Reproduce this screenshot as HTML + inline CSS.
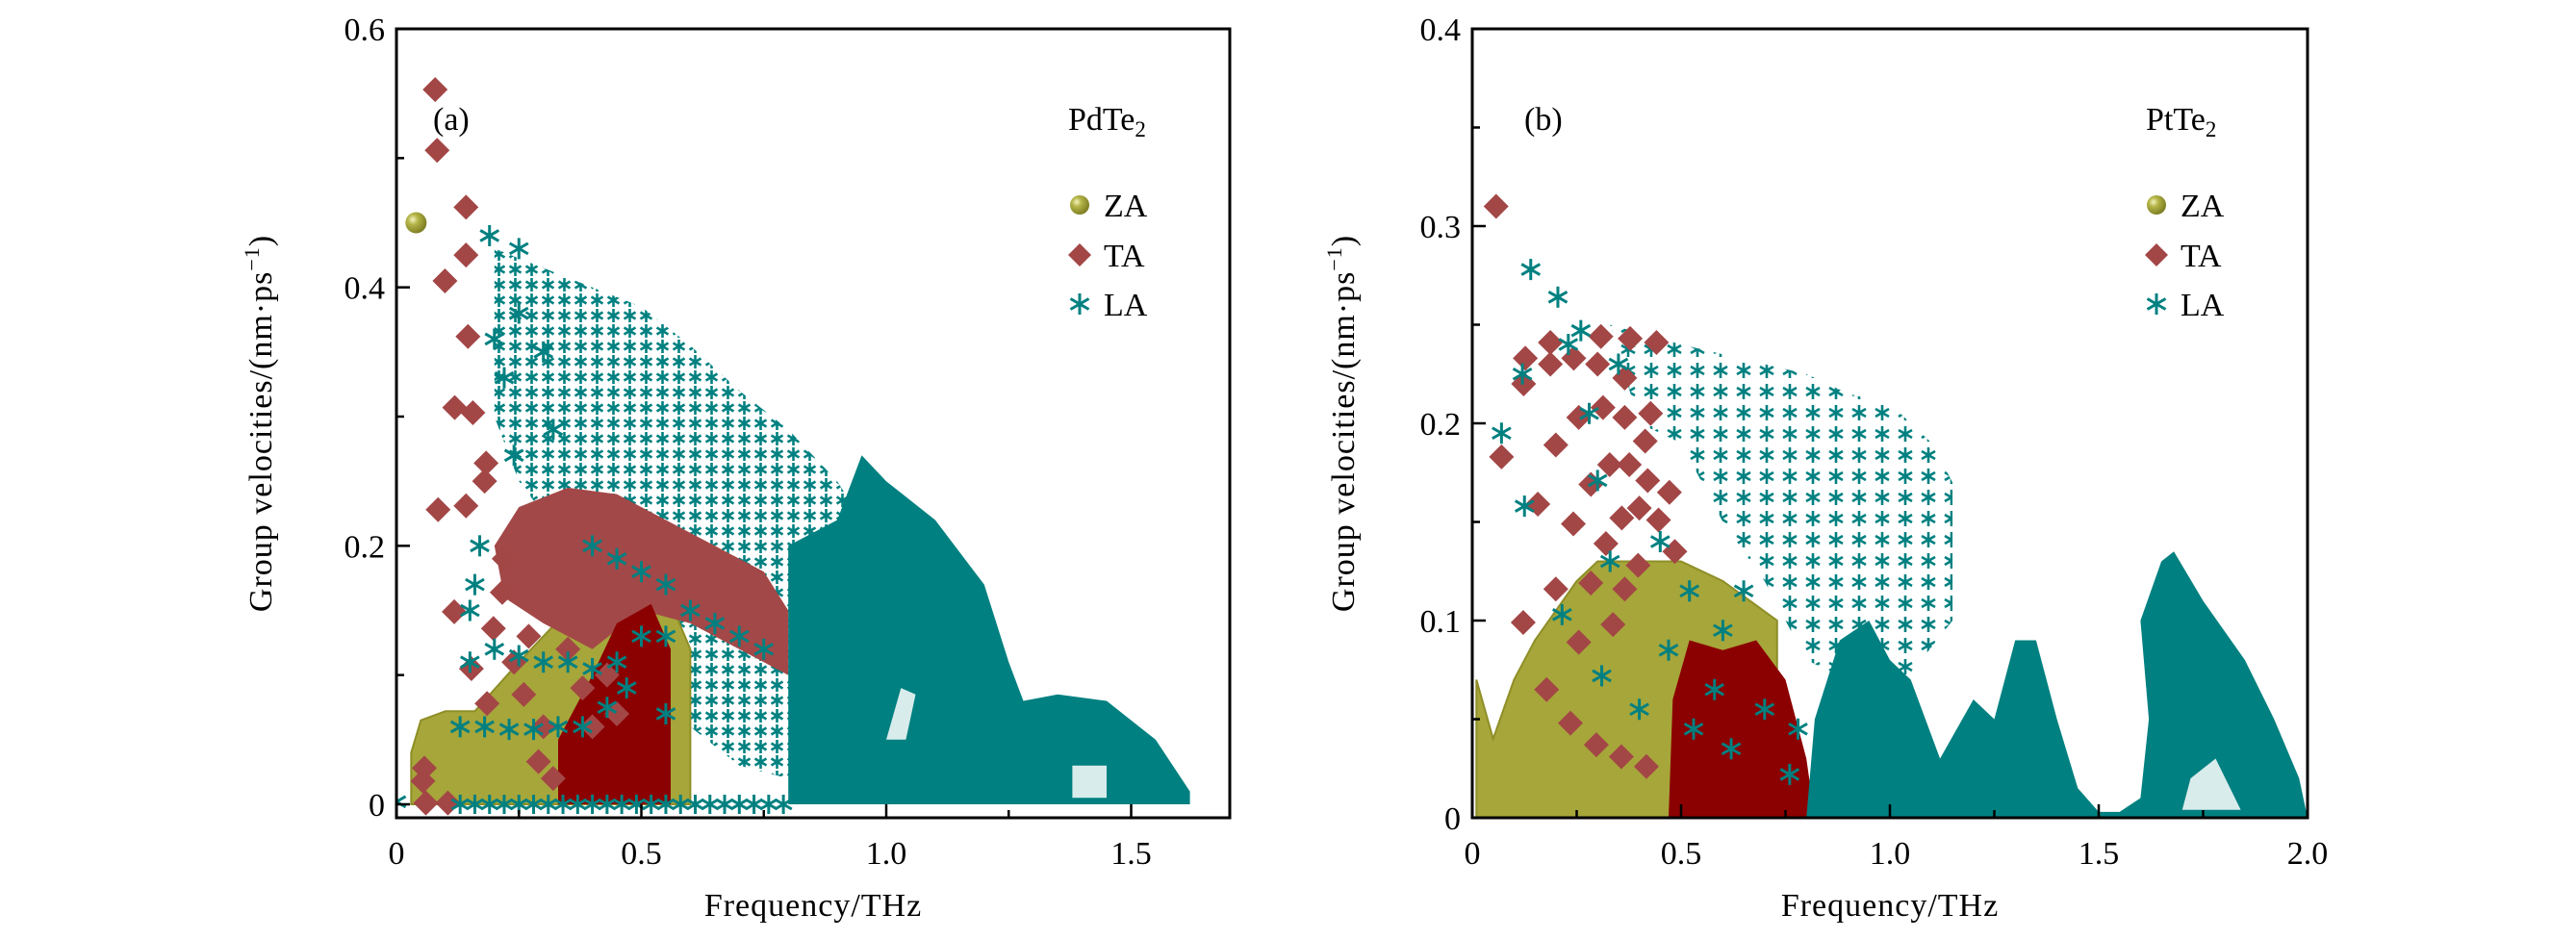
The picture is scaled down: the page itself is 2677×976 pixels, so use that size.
<!DOCTYPE html>
<html><head><meta charset="utf-8"><style>
html,body{margin:0;padding:0;background:#fff;}
svg{display:block;font-family:"Liberation Serif",serif;}
</style></head><body>
<svg id="chart" width="2677" height="976" viewBox="0 0 2677 976">
<defs>
<pattern id="starpat" width="17" height="16" patternUnits="userSpaceOnUse">
<g stroke="#008080" stroke-width="2.6"><line x1="8.5" y1="1" x2="8.5" y2="15"/><line x1="2.5" y1="4.5" x2="14.5" y2="11.5"/><line x1="2.5" y1="11.5" x2="14.5" y2="4.5"/></g>
</pattern>
<pattern id="starpat2" width="24" height="22" patternUnits="userSpaceOnUse">
<g stroke="#008080" stroke-width="2.6"><line x1="12" y1="3" x2="12" y2="19"/><line x1="5" y1="7" x2="19" y2="15"/><line x1="5" y1="15" x2="19" y2="7"/></g>
</pattern>
<radialGradient id="ball" cx="0.35" cy="0.35" r="0.7"><stop offset="0" stop-color="#f4f4c0"/><stop offset="0.35" stop-color="#b4b448"/><stop offset="1" stop-color="#7a7a20"/></radialGradient>
</defs>
</svg>
<script>
// ---------- Panel (a) PdTe2 data ----------
const aZAArea = [[0.03,0],[0.03,0.04],[0.05,0.065],[0.1,0.072],[0.16,0.072],[0.25,0.11],[0.35,0.15],[0.45,0.17],[0.55,0.165],[0.6,0.12],[0.6,0]];
const aZAPoints = [[0.04,0.45]];
const aTAUpperArea = [[0.2,0.2],[0.25,0.23],[0.35,0.245],[0.45,0.24],[0.55,0.22],[0.65,0.2],[0.75,0.18],[0.8,0.15],[0.8,0.1],[0.7,0.12],[0.6,0.14],[0.5,0.15],[0.4,0.12],[0.3,0.14],[0.22,0.16]];
const aTABaseArea = [[0.33,0],[0.33,0.05],[0.4,0.1],[0.45,0.14],[0.52,0.155],[0.56,0.12],[0.56,0]];
const aTAPoints = [[0.079,0.553],[0.083,0.506],[0.099,0.405],[0.142,0.462],[0.142,0.425],[0.146,0.362],[0.119,0.307],[0.156,0.303],[0.183,0.264],[0.18,0.25],[0.085,0.228],[0.142,0.231],[0.118,0.149],[0.198,0.136],[0.216,0.164],[0.153,0.105],[0.185,0.078],[0.06,0.001],[0.054,0.018],[0.057,0.028],[0.105,0.001],[0.26,0.085],[0.3,0.06],[0.29,0.033],[0.32,0.02],[0.35,0.12],[0.38,0.09],[0.4,0.06],[0.43,0.1],[0.45,0.07],[0.24,0.11],[0.27,0.13],[0.22,0.19]];
const aLADenseArea = [[0.8,0],[0.8,0.2],[0.9,0.22],[0.95,0.27],[1.0,0.25],[1.1,0.22],[1.2,0.17],[1.25,0.11],[1.28,0.08],[1.35,0.085],[1.45,0.08],[1.55,0.05],[1.62,0.01],[1.62,0]];
const aLAGapArea = [[[1.0,0.05],[1.03,0.09],[1.06,0.085],[1.04,0.05]],[[1.38,0.005],[1.38,0.03],[1.45,0.03],[1.45,0.005]]];
const aLAArcArea = [[0.2,0.43],[0.3,0.415],[0.4,0.4],[0.5,0.385],[0.6,0.355],[0.7,0.32],[0.8,0.29],[0.9,0.25],[0.95,0.22],[0.95,0.02],[0.8,0.02],[0.7,0.03],[0.6,0.06],[0.5,0.1],[0.35,0.2],[0.25,0.25],[0.2,0.3]];
const aLAPoints = [[0.19,0.44],[0.25,0.43],[0.25,0.38],[0.2,0.36],[0.22,0.33],[0.3,0.35],[0.32,0.29],[0.24,0.27],[0.17,0.2],[0.15,0.15],[0.16,0.17],[0.15,0.11],[0.2,0.12],[0.25,0.115],[0.3,0.11],[0.35,0.11],[0.4,0.105],[0.45,0.11],[0.5,0.13],[0.55,0.13],[0.13,0.06],[0.18,0.06],[0.23,0.058],[0.28,0.058],[0.33,0.06],[0.38,0.06],[0.43,0.075],[0.47,0.09],[0.55,0.07],[0.0,0.002],[0.6,0.15],[0.65,0.14],[0.7,0.13],[0.75,0.12],[0.4,0.2],[0.45,0.19],[0.5,0.18],[0.55,0.17]];
const aLABaseline = [0.13,0.16,0.19,0.22,0.25,0.28,0.31,0.34,0.37,0.4,0.43,0.46,0.49,0.52,0.55,0.58,0.61,0.64,0.67,0.7,0.73,0.76,0.79];
const aXTicks = [0,0.5,1.0,1.5];
const aXTickLabels = ["0","0.5","1.0","1.5"];
const aYTicks = [0,0.2,0.4,0.6];
const aYTickLabels = ["0","0.2","0.4","0.6"];

// ---------- Panel (b) PtTe2 data ----------
const bZAArea = [[0.01,0],[0.01,0.07],[0.05,0.04],[0.1,0.07],[0.15,0.09],[0.2,0.105],[0.25,0.12],[0.3,0.13],[0.4,0.13],[0.5,0.13],[0.6,0.12],[0.73,0.1],[0.73,0.06],[0.55,0]];
const bTAArea = [[0.47,0],[0.48,0.06],[0.52,0.09],[0.6,0.085],[0.68,0.09],[0.75,0.07],[0.8,0.03],[0.82,0]];
const bTAPoints = [[0.057,0.31],[0.07,0.183],[0.127,0.233],[0.123,0.22],[0.187,0.241],[0.187,0.23],[0.243,0.233],[0.308,0.244],[0.378,0.243],[0.441,0.241],[0.3,0.23],[0.365,0.223],[0.255,0.203],[0.313,0.208],[0.365,0.203],[0.427,0.205],[0.2,0.189],[0.414,0.191],[0.284,0.169],[0.329,0.179],[0.376,0.179],[0.42,0.171],[0.472,0.165],[0.157,0.159],[0.242,0.149],[0.358,0.152],[0.4,0.157],[0.446,0.151],[0.32,0.139],[0.485,0.135],[0.397,0.128],[0.122,0.099],[0.2,0.116],[0.284,0.119],[0.365,0.116],[0.255,0.089],[0.337,0.098],[0.178,0.065],[0.235,0.048],[0.297,0.037],[0.357,0.031],[0.417,0.026]];
const bLADenseArea = [[0.8,0],[0.82,0.05],[0.88,0.09],[0.95,0.1],[1.0,0.08],[1.05,0.07],[1.12,0.03],[1.2,0.06],[1.25,0.05],[1.3,0.09],[1.35,0.09],[1.4,0.05],[1.45,0.015],[1.5,0.003],[1.55,0.003],[1.6,0.01],[1.62,0.05],[1.6,0.1],[1.65,0.13],[1.68,0.135],[1.75,0.11],[1.85,0.08],[1.92,0.05],[1.98,0.02],[2.0,0]];
const bLAGapArea = [[[1.7,0.004],[1.72,0.02],[1.78,0.03],[1.84,0.004]]];
const bLAArcArea = [[0.33,0.25],[0.5,0.24],[0.6,0.235],[0.7,0.23],[0.8,0.225],[0.9,0.215],[1.0,0.21],[1.05,0.2],[1.1,0.19],[1.15,0.17],[1.15,0.1],[1.0,0.06],[0.8,0.08],[0.7,0.12],[0.6,0.15],[0.5,0.19],[0.4,0.2]];
const bLAPoints = [[0.14,0.278],[0.205,0.264],[0.07,0.195],[0.125,0.158],[0.26,0.247],[0.215,0.103],[0.31,0.072],[0.4,0.055],[0.12,0.225],[0.23,0.24],[0.28,0.205],[0.3,0.171],[0.33,0.13],[0.35,0.23],[0.45,0.14],[0.52,0.115],[0.6,0.095],[0.65,0.115],[0.7,0.055],[0.62,0.035],[0.58,0.065],[0.78,0.045],[0.76,0.022],[0.53,0.045],[0.47,0.085]];
const bXTicks = [0,0.5,1.0,1.5,2.0];
const bXTickLabels = ["0","0.5","1.0","1.5","2.0"];
const bYTicks = [0,0.1,0.2,0.3,0.4];
const bYTickLabels = ["0","0.1","0.2","0.3","0.4"];

const NS = "http://www.w3.org/2000/svg";
const svg = document.getElementById('chart');
function mk(tag, attrs, parent){
  const e = document.createElementNS(NS, tag);
  for (const k in attrs) e.setAttribute(k, attrs[k]);
  (parent||svg).appendChild(e);
  return e;
}

function panel(cfg){
  const {L,R,T,B,x0,x1,y0,y1} = cfg;
  const sx = v => L + (v - x0) / (x1 - x0) * (R - L);
  const sy = v => B - (v - y0) / (y1 - y0) * (B - T);
  const g = mk('g', {});
  
  
  const clipId = 'clip-' + cfg.name;
  const cp = mk('clipPath', {id: clipId}, svg.querySelector('defs'));
  mk('rect', {x:L, y:T, width:R-L, height:B-T}, cp);
  const plot = mk('g', {'clip-path': 'url(#' + clipId + ')'}, g);
  const poly = pts => pts.map(p => sx(p[0]).toFixed(1) + ',' + sy(p[1]).toFixed(1)).join(' ');

  const arc = mk('polygon', {points: poly(cfg.laArc), fill: 'url(#' + cfg.pat + ')'}, plot);
  
  
  const za = mk('polygon', {points: poly(cfg.zaArea), fill: '#a6a63a', stroke: '#8e8e28', 'stroke-width': 2}, plot);
  
  
  (cfg.zaPoints||[]).forEach(p => {
    const c = mk('circle', {cx: sx(p[0]), cy: sy(p[1]), r: 11, fill: 'url(#ball)'}, plot);
    
    
  });
  (cfg.taAreas).forEach(a => {
    const t = mk('polygon', {points: poly(a.pts), fill: a.fill}, plot);
    
    
  });
  const dense = mk('polygon', {points: poly(cfg.laDense), fill: '#008080'}, plot);
  
  
  cfg.laGaps.forEach(gp => {
    const h = mk('polygon', {points: poly(gp), fill: '#ffffff', opacity: 0.85}, plot);
    
    
  });
  cfg.taPoints.forEach(p => {
    const x = sx(p[0]), y = sy(p[1]);
    const d = mk('polygon', {points: `${x},${y-13} ${x+13},${y} ${x},${y+13} ${x-13},${y}`, fill: '#a34646'}, plot);
    
    
  });
  const star = (x, y, s) => {
    const st = mk('g', {stroke: '#008080', 'stroke-width': 3}, plot);
    
    
    mk('line', {x1:x, y1:y-s, x2:x, y2:y+s}, st);
    mk('line', {x1:x-s*0.87, y1:y-s*0.5, x2:x+s*0.87, y2:y+s*0.5}, st);
    mk('line', {x1:x-s*0.87, y1:y+s*0.5, x2:x+s*0.87, y2:y-s*0.5}, st);
  };
  cfg.laPoints.forEach(p => star(sx(p[0]), sy(p[1]), 11));
  (cfg.laBase||[]).forEach(f => star(sx(f), sy(0), 10));

  const fr = mk('rect', {x:L, y:T, width:R-L, height:B-T, fill:'none', stroke:'#000', 'stroke-width': 3}, g);
  
  
  cfg.xTicks.forEach((v, i) => {
    mk('line', {x1: sx(v), y1: B, x2: sx(v), y2: B - 14, stroke: '#000', 'stroke-width': 2.5}, g);
    if (i < cfg.xTicks.length - 1) {
      const m = (v + cfg.xTicks[i+1]) / 2;
      mk('line', {x1: sx(m), y1: B, x2: sx(m), y2: B - 8, stroke: '#000', 'stroke-width': 2.5}, g);
    }
    const t = mk('text', {x: sx(v), y: B + 48, 'text-anchor': 'middle', 'font-size': 34}, g);
    t.textContent = cfg.xTickLabels[i];
    
    
  });
  cfg.yTicks.forEach((v, i) => {
    mk('line', {x1: L, y1: sy(v), x2: L + 14, y2: sy(v), stroke: '#000', 'stroke-width': 2.5}, g);
    if (i < cfg.yTicks.length - 1) {
      const m = (v + cfg.yTicks[i+1]) / 2;
      mk('line', {x1: L, y1: sy(m), x2: L + 8, y2: sy(m), stroke: '#000', 'stroke-width': 2.5}, g);
    }
    const t = mk('text', {x: L - 12, y: sy(v) + 12, 'text-anchor': 'end', 'font-size': 34}, g);
    t.textContent = cfg.yTickLabels[i];
    
    
  });
  const xt = mk('text', {x: (L + R) / 2, y: 952, 'text-anchor': 'middle', 'font-size': 34, 'letter-spacing': 1}, g);
  xt.textContent = 'Frequency/THz';
  
  
  const yt = mk('text', {x: 0, y: 0, 'text-anchor': 'middle', 'font-size': 34, 'letter-spacing': 1, transform: `translate(${cfg.ytX},${(T+B)/2}) rotate(-90)`}, g);
  yt.innerHTML = 'Group velocities/(nm·ps<tspan dy="-13" font-size="22">−1</tspan><tspan dy="13">)</tspan>';
  
  
  const pl = mk('text', {x: cfg.labelX, y: 135, 'font-size': 34}, g);
  pl.textContent = cfg.label;
  
  
  const mt = mk('text', {x: cfg.matX, y: 135, 'font-size': 34}, g);
  mt.innerHTML = cfg.mat + '<tspan dy="7" font-size="23">2</tspan>';
  
  
  const lg = mk('g', {}, g);
  
  
  const lx = cfg.legX, ys = [213, 265, 316];
  mk('circle', {cx: lx, cy: ys[0], r: 10, fill: 'url(#ball)'}, lg);
  mk('polygon', {points: `${lx},${ys[1]-12} ${lx+12},${ys[1]} ${lx},${ys[1]+12} ${lx-12},${ys[1]}`, fill: '#a34646'}, lg);
  const ls = mk('g', {stroke: '#008080', 'stroke-width': 3}, lg);
  mk('line', {x1:lx, y1:ys[2]-11, x2:lx, y2:ys[2]+11}, ls);
  mk('line', {x1:lx-9.5, y1:ys[2]-5.5, x2:lx+9.5, y2:ys[2]+5.5}, ls);
  mk('line', {x1:lx-9.5, y1:ys[2]+5.5, x2:lx+9.5, y2:ys[2]-5.5}, ls);
  ['ZA','TA','LA'].forEach((s, i) => {
    const t = mk('text', {x: lx + 25, y: ys[i] + 12, 'font-size': 34}, lg);
    t.textContent = s;
    
    
  });
}

panel({name:'panel-a', L:412, R:1278, T:30, B:850, x0:0, x1:(1278-412)/509, y0:-(850-836)/1343, y1:0.6,
  zaArea:aZAArea, zaPoints:aZAPoints,
  taAreas:[{pts:aTAUpperArea, fill:'#a34848'},{pts:aTABaseArea, fill:'#8b0000'}],
  taPoints:aTAPoints, laArc:aLAArcArea, laDense:aLADenseArea, laGaps:aLAGapArea,
  laPoints:aLAPoints, laBase:aLABaseline, pat:'starpat',
  xTicks:aXTicks, xTickLabels:aXTickLabels, yTicks:aYTicks, yTickLabels:aYTickLabels,
  ytX:282, label:'(a)', labelX:450, mat:'PdTe', matX:1110, legX:1122});

panel({name:'panel-b', L:1530, R:2398, T:30, B:850, x0:0, x1:2.0, y0:0, y1:0.4,
  zaArea:bZAArea, zaPoints:[],
  taAreas:[{pts:bTAArea, fill:'#8b0000'}],
  taPoints:bTAPoints, laArc:bLAArcArea, laDense:bLADenseArea, laGaps:bLAGapArea,
  laPoints:bLAPoints, laBase:[], pat:'starpat2',
  xTicks:bXTicks, xTickLabels:bXTickLabels, yTicks:bYTicks, yTickLabels:bYTickLabels,
  ytX:1407, label:'(b)', labelX:1584, mat:'PtTe', matX:2230, legX:2241});
</script>
</body></html>
